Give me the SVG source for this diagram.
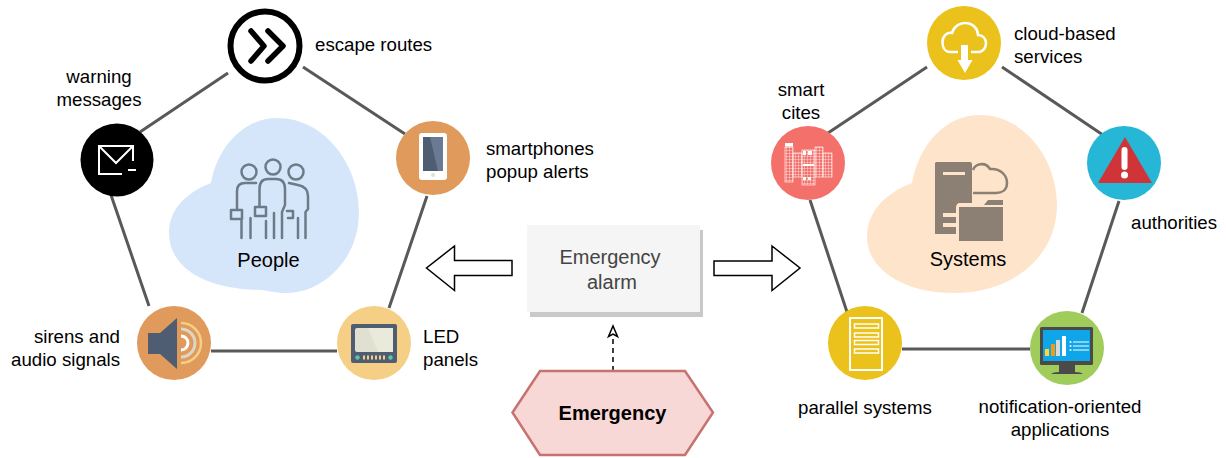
<svg xmlns="http://www.w3.org/2000/svg" width="1226" height="458" viewBox="0 0 1226 458">
<defs>
<pattern id="grid" width="3" height="3" patternUnits="userSpaceOnUse"><path d="M0 0H3M0 0V3" stroke="#fff" stroke-width="0.7" fill="none"/></pattern>
</defs>
<style>
text{font-family:"Liberation Sans",Arial,sans-serif;fill:#000;font-size:18.67px}
.big{font-size:20px}
.mid{text-anchor:middle}
.end{text-anchor:end}
.con{stroke:#595959;stroke-width:3;fill:none}
.ppl{stroke:#6c7b87;stroke-width:2.5;fill:none;stroke-linecap:round;stroke-linejoin:round}
.wl{stroke:#fff;fill:none}
.blk{fill:#4f5d73}
.arrow{fill:#fff;stroke:#000;stroke-width:1.5}
</style>
<rect width="1226" height="458" fill="#fff"/>

<g id="connectors">
<path class="con" d="M228 73L140 132M303 67L405 134M427 196L389 308M337 351H211M149 306L111 195"/>
<path class="con" d="M927 67L828 133M1002 67L1103 135M1119 201L1082 313M1030 349H902M847 312L810 200"/>
<path class="arrow" d="M512 260.5V275.5H454.5V290.5L426.5 268L454.5 246V260.5Z"/>
<path class="arrow" d="M714 261V275.5H772V290.5L800 268L772 246V261Z"/>
<path d="M613 371V338" stroke="#000" stroke-width="1.5" stroke-dasharray="5 4" fill="none"/>
<path d="M608.5 336.5L613 326L617.500 336.500L613 334Z" fill="#fff" stroke="#000" stroke-width="1.500"/>
</g>

<g id="people-blob">
<path d="M211 183C218 145 245 118 277 118C325 118 359 165 359 212C359 262 320 293 287 293C277 293 270 291 262 290C210 290 169 270 169 233C169 210 185 193 211 183Z" fill="#d6e6fa"/>
<circle class="ppl" cx="249" cy="172" r="7.500"/><circle class="ppl" cx="273" cy="167" r="7.500"/><circle class="ppl" cx="296" cy="172" r="7.500"/>
<path class="ppl" d="M256 183H245Q237 183 237 191V210M231 210H242V219H231ZM241.500 220V238M250.500 218V238M259.500 207V189Q259.500 179 268 179H276Q285 179 285 189V205L282 212V238M255 207H266V216H255ZM266 221V238M274 213V238M289 183L298 185Q308 187 308 196V209L305.500 212V238M298 218V238M287 211H293V218H288"/>
<text class="big mid" x="268.500" y="267">People</text>
</g>

<g id="systems-blob">
<path d="M912 183C919 145 945 115 980 115C1025 115 1057 160 1057 205C1057 255 1015 293 953 293C905 293 867 270 867 237C867 212 885 193 912 183Z" fill="#ffe4cc"/>
<path d="M973 170C975 164 985 161 990 169C1000 168 1007 175 1007 183C1007 190 1002 193 996 193H973" fill="none" stroke="#8b8073" stroke-width="2.500"/>
<path d="M936 162H970Q972 162 972 164V203H960Q956 203 956 208V234H935V163Z" fill="#8b8073"/>
<rect x="943" y="172" width="22" height="3" fill="#ffe4cc"/>
<rect x="943" y="213" width="13" height="4" fill="#ffe4cc"/>
<rect x="943" y="223" width="13" height="4" fill="#ffe4cc"/>
<path d="M959 207H1003V241H959ZM984 205L988 200H1003V205Z" fill="#8b8073"/>
<text class="big mid" x="968" y="266">Systems</text>
</g>

<g id="escape">
<circle cx="265" cy="46" r="34.500" fill="#fff" stroke="#000" stroke-width="6"/>
<path d="M251 31L264 46L251 61M268 31L283 46L268 61" fill="none" stroke="#000" stroke-width="5.500" stroke-linecap="round" stroke-linejoin="round"/>
<text x="315" y="51">escape routes</text>
</g>

<g id="warning">
<circle cx="117" cy="160" r="36.500" fill="#000"/>
<path class="wl" stroke-width="2" d="M133 161V146H99V174H122M99 146L116 163L133 146"/>
<path class="wl" stroke-width="2" d="M128 170H136"/>
<text class="mid" x="99" y="83">warning</text>
<text class="mid" x="99" y="106">messages</text>
</g>

<g id="smartphone">
<circle cx="433" cy="158" r="37" fill="#e09a5c"/>
<rect x="419" y="133" width="28" height="47" rx="3" fill="#fff"/>
<rect x="423" y="137" width="20" height="34" fill="#4f5d73"/>
<path d="M430 137H443V171H438Z" fill="#6a7a92"/>
<circle cx="433" cy="175" r="2" fill="#dfe2cf"/>
<text x="486" y="155">smartphones</text>
<text x="486" y="178">popup alerts</text>
</g>

<g id="led">
<circle cx="374" cy="343" r="37" fill="#f5cf85"/>
<rect x="351" y="324" width="46" height="39" rx="2" class="blk"/>
<rect x="355" y="328" width="38" height="24" rx="2" fill="#e0e0d1"/>
<path d="M368 328H393V352H378Z" fill="#e9e9dc"/>
<circle cx="357.500" cy="357.500" r="2.200" fill="#5cc6a8"/><circle cx="390.500" cy="357.500" r="2.200" fill="#5cc6a8"/>
<g fill="#f5cf85"><rect x="363" y="355.500" width="2" height="4"/><rect x="367" y="355.500" width="2" height="4"/><rect x="371" y="355.500" width="2" height="4"/><rect x="375" y="355.500" width="2" height="4"/><rect x="379" y="355.500" width="2" height="4"/><rect x="383" y="355.500" width="2" height="4"/></g>
<text x="423" y="343">LED</text>
<text x="423" y="366">panels</text>
</g>

<g id="speaker">
<circle cx="174" cy="343" r="37" fill="#e09a5c"/>
<path d="M177 318V369L160 354H148V333H160Z" class="blk"/>
<path d="M181 323A20 20 0 0 1 181 363" fill="none" stroke="#f5cf85" stroke-width="2.500"/>
<path d="M181 329A14 14 0 0 1 181 357" fill="none" stroke="#dcd6c4" stroke-width="3"/>
<path d="M181 336A7 7 0 0 1 181 350" fill="none" stroke="#fff" stroke-width="3"/>
<text class="end" x="120" y="343">sirens and</text>
<text class="end" x="120" y="366">audio signals</text>
</g>

<g id="cloud">
<circle cx="964" cy="43" r="37" fill="#ebc11b"/>
<path class="wl" stroke-width="2.500" d="M958 52H950C944 52 942.500 46 942.500 42C942.500 36 947 32 952 33C954 26 960 23 965 23C973 23 978 29 978 35C983 35 986 39 986 43C986 48 983 52 978 52H971"/>
<path d="M961 45H968V60H972.500L965 73L957.500 60H961Z" fill="#fff"/>
<text x="1014" y="40">cloud-based</text>
<text x="1014" y="63">services</text>
</g>

<g id="smart">
<circle cx="808" cy="163" r="37" fill="#f4716b"/>
<rect x="785" y="147" width="8" height="35" fill="url(#grid)" stroke="#fff" stroke-width=".6"/>
<rect x="785" y="143" width="8" height="3.500" fill="#fff"/>
<rect x="793" y="153" width="9" height="24" fill="url(#grid)" stroke="#fff" stroke-width=".6"/>
<rect x="802" y="150" width="13" height="35" fill="url(#grid)" stroke="#fff" stroke-width=".6"/>
<rect x="815" y="147" width="8" height="30" fill="url(#grid)" stroke="#fff" stroke-width=".6"/>
<rect x="823" y="153" width="9" height="24" fill="url(#grid)" stroke="#fff" stroke-width=".6"/>
<g fill="#fff"><rect x="803" y="151" width="3" height="4"/><rect x="808" y="151" width="4" height="4"/><rect x="803" y="164" width="11" height="2"/><rect x="803" y="177" width="3" height="3"/><rect x="808" y="177" width="3" height="3"/></g>
<text class="mid" x="801" y="96">smart</text>
<text class="mid" x="801" y="119">cites</text>
</g>

<g id="authorities">
<circle cx="1124" cy="163" r="37" fill="#26b7d6"/>
<path d="M1125 137L1152 183H1098Z" fill="#d13438"/>
<path d="M1124.500 150V167" stroke="#fff" stroke-width="6" stroke-linecap="round"/>
<circle cx="1124.500" cy="175" r="3.500" fill="#fff"/>
<text x="1131" y="229">authorities</text>
</g>

<g id="parallel">
<circle cx="865" cy="343" r="37" fill="#ebc11b"/>
<rect x="850" y="318" width="32" height="52" fill="none" stroke="#fff" stroke-width="2"/>
<g fill="none" stroke="#fff" stroke-width="1.500"><rect x="854.500" y="324" width="24" height="4"/><rect x="854.500" y="333" width="24" height="4"/><rect x="854.500" y="340.500" width="24" height="4"/><rect x="854.500" y="349" width="24" height="4"/></g>
<text x="798" y="414">parallel systems</text>
</g>

<g id="notification">
<circle cx="1067" cy="348" r="37" fill="#a0cc5c"/>
<rect x="1040" y="327" width="53" height="38" rx="1.500" fill="#4a4a4a"/>
<rect x="1043" y="330" width="47" height="31" fill="#0fa5e9"/>
<path d="M1059 365H1075V372H1059ZM1051 374Q1053 372 1059 372H1075Q1081 372 1083 374Z" fill="#4a4a4a"/>
<rect x="1045" y="349" width="4" height="7" fill="#ffd92f"/>
<rect x="1051" y="344" width="4" height="12" fill="#f39c12"/>
<rect x="1056" y="340" width="4" height="16" fill="#d9d9d9"/>
<rect x="1062" y="336" width="4" height="20" fill="#fff"/>
<path d="M1073 342H1089M1073 346H1089M1073 350H1089" stroke="#fff" stroke-width="1.200"/>
<circle cx="1070.500" cy="342" r="1" fill="#fff"/><circle cx="1070.500" cy="346" r="1" fill="#fff"/><circle cx="1070.500" cy="350" r="1" fill="#fff"/>
<text class="mid" x="1060" y="413">notification-oriented</text>
<text class="mid" x="1060" y="436">applications</text>
</g>

<g id="alarm">
<rect x="530" y="230" width="173" height="87" fill="#c9c9c9"/>
<rect x="527" y="225" width="173" height="87" fill="#f5f5f5"/>
<text class="big mid" x="610" y="264" style="fill:#444">Emergency</text>
<text class="big mid" x="612" y="289" style="fill:#444">alarm</text>
</g>

<g id="emergency">
<path d="M512.500 412.500L540 371H685L713 412.500L685 455H540Z" fill="#f8d7d7" stroke="#c6736f" stroke-width="2.500"/>
<text class="big mid" x="612.500" y="420" font-weight="bold">Emergency</text>
</g>
</svg>
